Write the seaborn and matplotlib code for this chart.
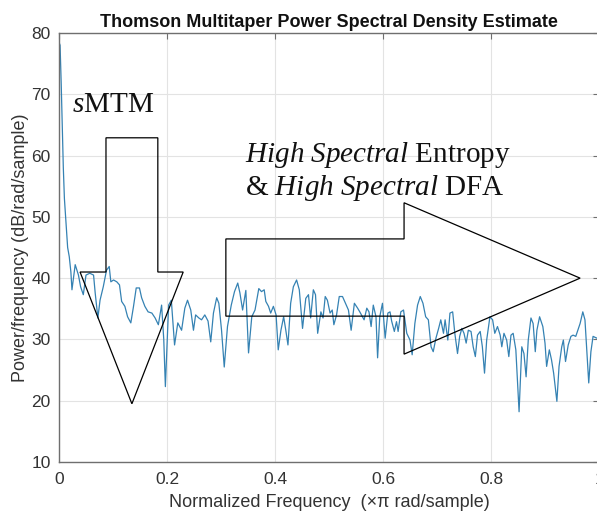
import numpy as np
import pandas as pd
import matplotlib
matplotlib.use('Agg')
import matplotlib.pyplot as plt
import seaborn as sns

# PSD trace (normalized freq, dB/rad/sample)
freq = [0.000, 0.002, 0.004, 0.006, 0.008, 0.010, 0.013, 0.016, 0.019, 0.022,
        0.024, 0.030, 0.036, 0.040, 0.045, 0.050, 0.057, 0.064, 0.067, 0.072,
        0.076, 0.082, 0.088, 0.093, 0.096, 0.101, 0.107, 0.112, 0.116, 0.122,
        0.127, 0.133, 0.138, 0.143, 0.149, 0.153, 0.159, 0.165, 0.172, 0.178,
        0.184, 0.190, 0.194, 0.197, 0.203, 0.208, 0.214, 0.220, 0.227, 0.233,
        0.238, 0.244, 0.249, 0.253, 0.259, 0.264, 0.270, 0.276, 0.281, 0.286,
        0.292, 0.296, 0.301, 0.306, 0.312, 0.319, 0.325, 0.331, 0.335, 0.340,
        0.346, 0.351, 0.357, 0.363, 0.370, 0.375, 0.380, 0.383, 0.388, 0.392,
        0.397, 0.402, 0.406, 0.411, 0.416, 0.420, 0.424, 0.429, 0.434, 0.440,
        0.445, 0.451, 0.457, 0.462, 0.466, 0.471, 0.475, 0.479, 0.485, 0.489,
        0.493, 0.497, 0.502, 0.506, 0.509, 0.514, 0.519, 0.525, 0.530, 0.536,
        0.541, 0.547, 0.553, 0.557, 0.565, 0.570, 0.574, 0.578, 0.582, 0.587,
        0.590, 0.594, 0.599, 0.604, 0.609, 0.613, 0.616, 0.621, 0.625, 0.628,
        0.633, 0.638, 0.644, 0.650, 0.654, 0.659, 0.664, 0.669, 0.674, 0.679,
        0.684, 0.689, 0.693, 0.698, 0.703, 0.707, 0.712, 0.715, 0.720, 0.724,
        0.729, 0.733, 0.738, 0.742, 0.746, 0.750, 0.754, 0.758, 0.763, 0.767,
        0.771, 0.775, 0.780, 0.784, 0.788, 0.792, 0.798, 0.803, 0.807, 0.812,
        0.817, 0.820, 0.824, 0.829, 0.833, 0.837, 0.841, 0.846, 0.852, 0.857,
        0.861, 0.865, 0.869, 0.874, 0.878, 0.882, 0.885, 0.890, 0.896, 0.900,
        0.903, 0.908, 0.912, 0.916, 0.922, 0.926, 0.931, 0.934, 0.938, 0.943,
        0.948, 0.952, 0.957, 0.960, 0.965, 0.970, 0.974, 0.977, 0.981, 0.985,
        0.989, 0.996, 1.000]
psd = [78.5, 78.0, 72.0, 65.0, 58.0, 53.0, 49.0, 45.0, 43.5, 41.0,
       38.1, 42.2, 40.5, 38.6, 37.3, 40.5, 40.8, 40.5, 37.6, 33.5,
       36.4, 38.6, 41.3, 41.9, 39.4, 39.7, 39.4, 38.9, 36.2, 35.4,
       33.7, 32.7, 35.4, 38.4, 38.4, 36.8, 35.4, 34.5, 34.3, 33.5,
       32.4, 35.6, 30.0, 22.3, 35.6, 36.4, 29.1, 32.7, 31.5, 35.1,
       36.4, 34.8, 31.5, 34.0, 33.5, 33.2, 34.0, 33.0, 29.6, 34.3,
       36.8, 35.9, 31.5, 25.5, 32.1, 35.6, 37.8, 39.2, 37.6, 34.8,
       38.0, 27.8, 33.7, 34.8, 38.3, 37.8, 38.1, 36.2, 35.4, 34.3,
       35.4, 34.0, 28.3, 31.5, 33.7, 31.5, 29.1, 35.9, 38.6, 39.7,
       38.1, 31.8, 36.7, 37.3, 33.5, 38.1, 37.3, 31.0, 34.5, 33.5,
       37.0, 36.4, 34.3, 34.8, 32.4, 34.0, 37.0, 37.0, 36.0, 34.8,
       31.5, 35.9, 35.1, 34.5, 33.2, 35.1, 34.5, 32.1, 35.6, 33.7,
       27.0, 33.7, 35.9, 30.2, 34.3, 34.5, 33.0, 31.3, 32.9, 31.3,
       34.5, 34.8, 31.0, 29.9, 27.5, 32.6, 35.6, 37.0, 35.9, 33.7,
       33.2, 28.8, 28.0, 30.2, 31.8, 33.2, 31.0, 33.2, 29.9, 34.3,
       34.5, 31.0, 27.7, 30.5, 31.8, 31.0, 29.4, 31.5, 31.3, 28.8,
       27.2, 30.7, 31.3, 28.8, 24.5, 29.9, 33.7, 33.2, 31.0, 32.1,
       30.7, 28.8, 31.0, 29.9, 27.2, 30.7, 31.0, 28.3, 18.2, 28.8,
       27.7, 23.9, 29.9, 33.5, 32.6, 28.0, 31.5, 33.7, 32.1, 29.4,
       25.6, 28.3, 26.7, 24.5, 19.9, 25.6, 28.8, 29.9, 26.4, 29.1,
       30.5, 30.7, 30.5, 31.3, 32.6, 34.5, 33.2, 28.8, 22.9, 28.0,
       30.5, 30.2, 30.5]

# arrow outlines (data coords)
down_arrow_x = [0.087, 0.183, 0.183, 0.230, 0.135, 0.039, 0.087]
down_arrow_y = [62.9, 62.9, 41.0, 41.0, 19.5, 41.0, 41.0]
right_arrow_x = [0.309, 0.639, 0.639, 0.965, 0.639, 0.639, 0.309]
right_arrow_y = [46.4, 46.4, 52.3, 40.0, 27.6, 33.8, 33.8]

x_ticks = [0, 0.2, 0.4, 0.6, 0.8, 1]
x_labels = ['0', '0.2', '0.4', '0.6', '0.8', '1']
y_ticks = [10, 20, 30, 40, 50, 60, 70, 80]

sns.set_theme(style='whitegrid')
plt.rcParams['font.family'] = ['Liberation Sans', 'DejaVu Sans']
plt.rcParams['mathtext.fontset'] = 'custom'
plt.rcParams['mathtext.rm'] = 'Liberation Serif'
plt.rcParams['mathtext.it'] = 'Liberation Serif:italic'

df = pd.DataFrame({'f': freq, 'p': psd})

fig = plt.figure(figsize=(5.97, 5.14), dpi=100)
ax = fig.add_axes([59 / 597, 52 / 514, 540 / 597, 429 / 514])
ax.set_facecolor('white')

sns.lineplot(data=df, x='f', y='p', ax=ax, color='#3582b3', lw=0.9,
             estimator=None, sort=True)

ax.fill(down_arrow_x, down_arrow_y, facecolor='none', edgecolor='black', lw=0.9, zorder=3)
ax.fill(right_arrow_x, right_arrow_y, facecolor='none', edgecolor='black', lw=0.9, zorder=3)

serif = 'Liberation Serif'
ax.text(0.024, 67.1, r'$\mathit{s}$MTM', family=serif, fontsize=21, va='baseline', color='#111111')
ax.text(0.344, 59.0, r'$\mathit{High\ Spectral}$ Entropy', family=serif, fontsize=21,
        va='baseline', color='#111111')
ax.text(0.344, 53.6, r'& $\mathit{High\ Spectral}$ DFA', family=serif, fontsize=21,
        va='baseline', color='#111111')

ax.set_xlim(0, 1)
ax.set_ylim(10, 80)
ax.set_xticks(x_ticks)
ax.set_xticklabels(x_labels)
ax.set_yticks(y_ticks)
ax.grid(True, color='#e3e3e3', lw=0.8)
for s in ax.spines.values():
    s.set_visible(True)
    s.set_color('#6f6f6f')
    s.set_linewidth(1.0)
ax.tick_params(direction='in', length=4, width=0.8, color='#6f6f6f',
               top=True, right=True, labelsize=12.5, labelcolor='#333333')
ax.tick_params(axis='x', pad=7)
ax.tick_params(axis='y', pad=6)

ax.set_xlabel('Normalized Frequency  (×π rad/sample)', fontsize=13, color='#333333', labelpad=5)
ax.set_ylabel('Power/frequency (dB/rad/sample)', fontsize=13, color='#333333', labelpad=2)
ax.set_title('Thomson Multitaper Power Spectral Density Estimate', fontsize=13,
             fontweight='bold', color='#111111', pad=4)

fig.savefig('out.png', dpi=100)
